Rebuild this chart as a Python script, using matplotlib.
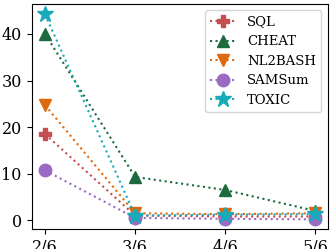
import numpy as np
import matplotlib.pyplot as plt

plt.rcParams['font.family'] = 'DejaVu Serif'

xlabels = ['2/6', '3/6', '4/6', '5/6']
names = ['SQL', 'CHEAT', 'NL2BASH', 'SAMSum', 'TOXIC']
sql = [18.5, 1.0, 0.8, 0.8]
cheat = [40.0, 9.3, 6.5, 2.0]
nl2bash = [24.7, 1.5, 1.3, 1.5]
samsum = [10.7, 0.5, 0.3, 0.2]
toxic = [44.2, 1.0, 1.2, 1.3]

series = [sql, cheat, nl2bash, samsum, toxic]
colors = ['#c44e52', '#1b6b3e', '#dd6a0e', '#9b6bc4', '#17aab8']
markers = ['P', '^', 'v', 'o', '*']
sizes = [9, 9, 9, 9, 12]

fig, ax = plt.subplots(figsize=(3.32, 2.49), dpi=100)
x = np.arange(len(xlabels))
for vals, name, c, m, s in zip(series, names, colors, markers, sizes):
    ax.plot(x, vals, linestyle=':', color=c, marker=m, markersize=s, label=name, linewidth=1.5)

ax.set_xticks(x)
ax.set_xticklabels(xlabels, fontsize=11.5)
ax.tick_params(axis='y', labelsize=11.5)
ax.set_xlim(-0.15, 3.14)
ax.set_ylim(-1.9, 46.5)
ax.set_yticks([0, 10, 20, 30, 40])
ax.legend(loc='upper right', fontsize=9.5, handlelength=2)
fig.subplots_adjust(left=0.095, right=0.988, top=0.985, bottom=0.08)
fig.savefig('out.png', dpi=100)
